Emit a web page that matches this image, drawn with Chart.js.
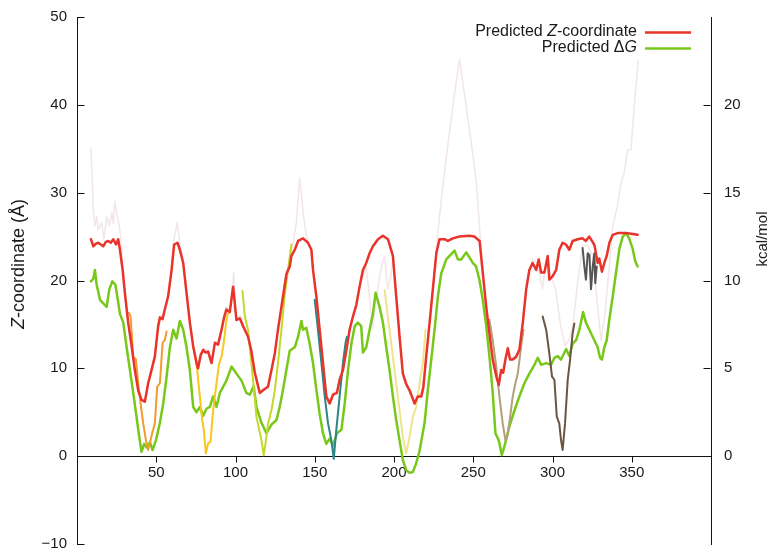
<!DOCTYPE html>
<html>
<head>
<meta charset="utf-8">
<script src="https://cdn.jsdelivr.net/npm/chart.js@4.4.1/dist/chart.umd.min.js"></script>
<style>
  html, body { margin: 0; padding: 0; background: #ffffff; }
  canvas { display: block; }
</style>
</head>
<body>
<canvas id="chart" width="772" height="549"></canvas>
<script>
// Predicted Z-coordinate (Å) along the sequence, capped near the membrane edge
const zRes = [8.8,10.3,12,13.4,15,16.6,18.2,19.7,21.3,22.9,24.6,26,27.1,28.8,30.2,32.3,34.5,36.5,38.6,40.7,42.8,44.9,47,49.1,51.2,52.3,54,55.4,57.5,59.7,61.3,63.4,64.9,67,69.1,71.2,73.3,75.4,76.4,78,79.6,81.2,82.7,84.9,87,89,91.2,92.8,94.3,96.4,98.5,100.6,102.7,104.8,107.9,110,112.2,115.3,117.4,120.5,122.7,124.8,126.8,130,132.1,134.2,135.3,137.4,139.5,142.6,145.7,147.9,148.9,151,153.1,155.2,157.3,159.4,161.5,164,165.7,167.8,170,172,174.1,176.2,178.3,180.4,182.5,184.6,186.7,189.9,193,196.2,199.3,201.4,203.5,205.6,207.7,209.8,213,215,217.2,218.5,220.3,222.4,224.5,226.7,228.7,231.9,234,237.1,241.3,247.6,250.8,254,256,258.2,260.2,262.3,264.5,266.1,267.6,268.9,270.3,271.8,273.2,274.9,277,279.1,281.2,283.4,285.4,287.5,289.7,291.3,292.8,294.9,297,298,300.1,302.3,304.3,306.4,308.5,310.6,312.7,315.9,319,321,323.2,325.3,326.5,328.5,329.5,331.2,332.7,334.2,335.9,338,341.1,346.4,353.7];
const zVal = [24.7,23.9,24.2,24.3,24.1,23.9,24.4,24.5,24.3,24.7,24.1,24.7,23.5,21.2,18.6,15.2,12.5,9.8,7.5,6.4,6.2,8.3,9.8,11.3,14.8,15.8,15.6,16.7,18.2,21.2,24.1,24.3,23.5,22,18.6,15.2,12.5,10.6,10,11.5,12.1,11.8,11.9,10.6,12.9,12.7,14.4,15.8,16.7,16.4,19.3,15.5,15.7,14.8,13.6,12,9.5,7.2,7.5,7.9,9.8,11.7,14.4,18.2,20.7,21.6,22.8,23.5,24.5,24.8,24.3,23.5,21.2,18.2,14.4,10.6,6.8,6,7,7.2,8.7,9.8,12.1,14.4,15.9,17.2,19.3,21.2,22,23.1,23.9,24.7,25.1,24.7,22.8,18.2,13.6,9.4,8.2,7.5,6,6.8,6.8,7.8,11.3,15.1,19,23.1,24.7,24.7,24.5,24.8,25,25.1,25,24.5,20.9,17,14,11,9.1,8.1,9.8,9.5,11,12.3,11,11,11.3,12.1,15.1,19,21.2,22,21.2,22.4,20.9,20.9,22.8,20.1,20.5,21.2,23.5,24.3,24.1,23.5,24.5,24.7,24.8,24.5,25,24.4,24,22,22.5,21,22,22.8,24.3,25.2,25.4,25.4,25.2];

// Predicted insertion free energy (kcal/mol)
const dgRes = [8.8,10.3,11.3,12.4,14.5,16.6,18.7,20.4,22.3,24.2,25.4,27.1,29.2,31.3,33.4,35.5,37.6,39.3,40.7,42.4,43.9,46,47.7,49.8,52.3,54.4,56.5,58.6,60.7,62.8,64.9,67,69.1,71.2,73.3,75.4,77.5,79.6,81.7,83.8,85.9,88,90.1,94.3,97.5,100.6,103.8,106.9,109,111.5,113.2,116.4,119.5,122.7,125.8,127.9,130,132.1,134.2,137.4,139.5,141.6,142.6,144.7,146.8,148.9,151,153.1,155.2,157.3,159.4,161.5,164,166.8,168.9,171,173.1,175.2,177.2,179.3,180.4,182.5,184.6,186.7,188.4,190.9,193,195.1,197.2,199.3,201.4,203.5,205.6,207.7,209.8,211.9,214,216,219.3,221.4,223.5,225.6,227.7,229.8,233,236.1,238.2,240.3,242.4,245.6,247.7,249.7,251.8,254,256,258.2,260.2,262.3,264,266.1,268,270.1,272.8,276,279.1,282.3,285.4,288.6,290.7,292.8,296,299.1,301.2,303.3,305.4,308.6,310.6,312.7,314.9,317,319.3,321.1,324.3,326.4,328.5,330,331.2,332.7,334.2,335.9,338,340,342.2,344.3,346.4,348.4,350.6,352.2,353.7];
const dgVal = [9.95,10.1,10.6,9.76,8.9,8.7,8.5,9.5,9.95,9.76,9.1,8.1,7.6,6.2,4.9,3.6,2.2,1.1,0.25,0.7,0.5,0.8,0.35,0.9,1.9,3,4.5,6.2,7.2,6.7,7.7,7.2,6.2,4.9,2.8,2.5,2.8,2.3,2.7,2.8,3.4,2.8,3.6,4.3,5.1,4.7,4.3,3.6,3.5,4,2.8,1.9,1.3,1.8,2.05,2.8,3.8,4.9,6,6.2,6.8,7.7,7.2,7.3,6.4,5.3,3.8,2.4,1.3,0.7,1,0.6,1.3,1.5,3,4.9,6.4,7.4,7.6,7.4,5.9,6.2,7.2,8.1,9.3,8.5,7.6,6.2,4.9,3.4,2.05,0.9,-0.23,-0.8,-0.95,-0.9,-0.4,0.25,1.9,3.8,5.5,7.2,9.1,10.4,11.2,11.5,11.7,11.2,11.2,11.6,11.3,11,10.8,10,8.9,7.4,5.7,3.6,1.3,0.9,0.06,0.7,1.7,2.6,3.4,4.15,4.7,5.2,5.6,5.2,5.3,5.2,5.6,5.7,5.5,6.1,5.7,6.4,6.6,7.2,8.2,7.6,7,6.6,6.2,5.6,5.5,6.2,6.6,7.8,9.1,10.4,11.8,12.5,12.7,12.4,11.8,11.1,10.8];

// Uncapped Z-coordinate trace (faint background curve)
const rawRes = [8.8,10.3,11.3,12.4,13.4,15.6,17,18.7,20.4,21.9,22.9,23.9,25.4,26.7,28,29,31,33,35,37,39,41,43,45,47,49,51,53,55,57,59.5,61,63.2,65,67,69,71,73.3,75.4,77,80,83,85,87,89,91,94,96.4,98.9,100.6,103,105,108,112,115,118,121,123,125,127,130,132,134,136,138.4,140.5,143,144.7,147,149,151,153,155,157,159.4,162,164,166,168,170,172,174,176,178.3,180.4,182.5,184.6,186.5,188.5,190.5,192,194,196,198,199.3,201.4,203.5,205.6,209.8,213,216,218.5,220.3,222.4,224.5,226.6,230,234,238,241.3,245,248.5,251.8,255,258.5,260.2,262.3,264.5,266,268,270,272,274,277,279,281,283.4,285.4,287.5,290.5,292,293.6,295,297,299,302,305,308,311,313,316,319,322,325.4,328,330.6,333,336,338,341,343.2,345.3,347.4,349.5,351.6,354.1];
const rawVal = [35.1,28.1,26.2,27.3,25.8,26.6,24.7,27.3,26.2,27.7,26.5,29,27.3,26.2,24,21,17,14,11.5,9,7,6.5,6.4,8.5,10,11.5,14.5,15.8,16.5,18,21,24.5,26.6,24,22.5,18.8,15.5,12.8,10.8,10.5,12.3,12,10.9,13,13,14.6,17,16.8,20.9,15.8,16,15,13.8,9.8,7.5,7.7,8.2,10,12,14.6,18.5,21,22,24,26.6,31.7,27.3,25,24,21.5,18.5,14.7,11,7.2,6.3,7.2,7.5,9,10,12.3,14.6,16,17.4,19.3,20.5,21.5,18,14.5,17.5,20,21.5,22.8,19,20.5,22.5,18.2,13.6,9.4,7.5,6.2,6.8,8,11.3,15,19,23.5,29.5,35.5,41,45.2,40.5,36,31.5,23.5,15.5,13.5,11,9.3,8.3,9.6,11,12,11.2,11.5,12.3,15,19,21.4,22.4,22,20.5,19,21,22.5,20.5,19,15,12.5,13.5,15.1,20,23.9,24,22.8,18,13.2,16,22,26.2,28.5,31.1,32.3,34.9,34.9,39.9,45];

// Alternative per-helix predictions (short segments)
const seg1Res = [32.8,33.8,35.5,37.2,38.6,40.1,41.8,43.5,44.9,46.4,47.7,49.1,50.6,52.3,54,55.4,56.5];
const seg1Val = [16.3,15.9,11.3,11,8.3,6,3.7,1.8,0.7,1.8,2.8,3.7,7.9,8.3,12.9,13.2,14.2];
const seg2Res = [73.3,75.4,77.5,79,80,81.3,82.7,84.2,85.9,88,89.7,91.2,92.6,94.3,95.3];
const seg2Val = [12.5,10.6,6.8,4.1,3,0.3,1.45,1.6,5.25,8.3,10.6,11.3,12.9,15.5,16.3];
const seg3Res = [104.4,105.9,107.9,110,112,113.2,116.4,117.8,119,120.5,122.7,124.8,126.8,129,131,133.1,135.3];
const seg3Val = [18.8,15.9,14.4,10.6,7,4.5,1.8,0.1,1.5,3.7,5.25,7.5,10.6,14.4,18.2,21.2,24.1];
const seg4Res = [150,152,154.2,156.3,158.4,160.5,162,163.6,165.7,167.8,169.5,170.3];
const seg4Val = [17.8,14.4,10.6,6.8,3.7,1.8,-0.3,3,6.8,10.6,13,13.6];
const seg5Res = [194.1,195.5,197.2,199.3,201.4,203.5,205.6,207.7,209.8,211.9,214,216.1,218.2,219.9];
const seg5Val = [18.9,16.7,14.4,11.3,8.3,5.25,2.2,0.3,2.2,4.5,5.6,8.3,10.6,14.4];
const seg6Res = [260.2,262.3,264.5,266.5,268.6,270.3,271.5,273.3,274.9,276.6,278.1,280.2,281.7];
const seg6Val = [15.5,13.2,10.2,6.8,3.7,1.8,2.3,4.5,6.8,8.3,9.4,12.5,14.4];
const seg7Res = [293.8,296,298,299.7,301.2,302.7,304.3,305.4,306.4,307.9,309.6,311.1,312.7,313.8];
const seg7Val = [15.9,14.4,11.7,9.05,8.7,4.5,3.7,1.8,0.7,3.7,8.7,11,14,15.1];
const seg8Res = [319,320.1,321.1,322.2,323.3,324.3,325.4,326.4,327,327.9];
const seg8Val = [23.7,21.6,20.1,23.1,22.9,19,21.6,23.1,19.7,21.6];

// Tick labels
const xTicks = [50, 100, 150, 200, 250, 300, 350];
const zTicks = [-10, 0, 10, 20, 30, 40, 50];
const dgTicks = [0, 5, 10, 15, 20];

const FAMILY = '"Liberation Sans", Arial, Helvetica, sans-serif';
const INK = '#1a1a1a';

const pts = (xs, ys) => xs.map((x, i) => ({ x: x, y: ys[i] }));

function line(label, xs, ys, color, width, axis, order) {
  return {
    label: label,
    data: pts(xs, ys),
    borderColor: color,
    backgroundColor: color,
    borderWidth: width,
    pointRadius: 0,
    tension: 0,
    fill: false,
    borderJoinStyle: 'round',
    borderCapStyle: 'round',
    yAxisID: axis,
    order: order
  };
}

// tick marks pointing into the plot, plus axis titles and legend text
const decorations = {
  id: 'decorations',
  afterDraw(chart) {
    const { ctx, chartArea, scales } = chart;
    const sx = scales.x, sy = scales.y, sr = scales.y2;
    const zeroY = Math.round(sy.getPixelForValue(0)) + 0.5;
    const left = Math.round(chartArea.left) + 0.5;
    const right = Math.round(chartArea.right) - 0.5;
    ctx.save();
    ctx.strokeStyle = '#111';
    ctx.lineWidth = 1;
    ctx.beginPath();
    zTicks.forEach(v => {
      const y = Math.round(sy.getPixelForValue(v)) + 0.5;
      ctx.moveTo(left, y); ctx.lineTo(left + 7, y);
    });
    dgTicks.forEach(v => {
      const y = Math.round(sr.getPixelForValue(v)) + 0.5;
      ctx.moveTo(right, y); ctx.lineTo(right - 7, y);
    });
    xTicks.forEach(v => {
      const x = Math.round(sx.getPixelForValue(v)) + 0.5;
      ctx.moveTo(x, zeroY); ctx.lineTo(x, zeroY + 6);
    });
    ctx.stroke();

    ctx.fillStyle = INK;
    ctx.textBaseline = 'middle';

    const measure = (parts, size) => parts.reduce((w, p) => {
      ctx.font = (p.it ? 'italic ' : '') + size + 'px ' + FAMILY;
      p.w = ctx.measureText(p.t).width;
      return w + p.w;
    }, 0);
    const put = (parts, size, x, y) => {
      parts.forEach(p => {
        ctx.font = (p.it ? 'italic ' : '') + size + 'px ' + FAMILY;
        ctx.fillText(p.t, x, y);
        x += p.w;
      });
    };

    // axis titles, both reading bottom to top
    const leftTitle = [{ t: 'Z', it: true }, { t: '-coordinate (Å)' }];
    let w = measure(leftTitle, 18);
    ctx.save();
    ctx.translate(19, 264);
    ctx.rotate(-Math.PI / 2);
    ctx.textAlign = 'left';
    put(leftTitle, 18, -w / 2, 0);
    ctx.restore();

    const rightTitle = [{ t: 'kcal/mol' }];
    w = measure(rightTitle, 15);
    ctx.save();
    ctx.translate(763, 239);
    ctx.rotate(-Math.PI / 2);
    ctx.textAlign = 'left';
    put(rightTitle, 15, -w / 2, 0);
    ctx.restore();

    // legend
    const items = [
      { parts: [{ t: 'Predicted ' }, { t: 'Z', it: true }, { t: '-coordinate' }], color: '#e8342a', y: 32 },
      { parts: [{ t: 'Predicted Δ' }, { t: 'G', it: true }], color: '#78c81a', y: 48 }
    ];
    ctx.textAlign = 'left';
    items.forEach(it => {
      const tw = measure(it.parts, 16);
      put(it.parts, 16, 637 - tw, it.y);
      ctx.strokeStyle = it.color;
      ctx.lineWidth = 2.5;
      ctx.beginPath();
      ctx.moveTo(645, it.y + 0.5);
      ctx.lineTo(691, it.y + 0.5);
      ctx.stroke();
    });
    ctx.restore();
  }
};

const tickFont = { family: FAMILY, size: 15 };

new Chart(document.getElementById('chart'), {
  type: 'line',
  data: {
    datasets: [
      line('Predicted Z-coordinate', zRes, zVal, '#e8342a', 2.5, 'y', 0),
      line('H8', seg8Res, seg8Val, '#555555', 2, 'y', 1),
      line('H7', seg7Res, seg7Val, '#6b5541', 2, 'y', 1),
      line('H6', seg6Res, seg6Val, '#b3a078', 2, 'y', 1),
      line('H5', seg5Res, seg5Val, '#efe38c', 2, 'y', 1),
      line('H4', seg4Res, seg4Val, '#2b8786', 2, 'y', 1),
      line('H3', seg3Res, seg3Val, '#c4d82c', 2, 'y', 1),
      line('H2', seg2Res, seg2Val, '#f7c81c', 2, 'y', 1),
      line('H1', seg1Res, seg1Val, '#f59a2c', 2, 'y', 1),
      line('Predicted ΔG', dgRes, dgVal, '#78c81a', 2.5, 'y2', 2),
      line('Z-coordinate (uncapped)', rawRes, rawVal, '#f2e6ea', 1.5, 'y', 3)
    ]
  },
  options: {
    responsive: false,
    animation: false,
    devicePixelRatio: 1,
    layout: { padding: { top: 17, bottom: 5, left: 0, right: 0 } },
    plugins: { legend: { display: false }, tooltip: { enabled: false } },
    scales: {
      x: {
        type: 'linear',
        min: 0,
        max: 400,
        position: { y: 0 },
        grid: { display: false, drawTicks: false },
        border: { display: true, color: '#111', width: 1 },
        ticks: { font: tickFont, color: INK, padding: 8, maxRotation: 0, autoSkip: false },
        afterBuildTicks: s => { s.ticks = xTicks.map(v => ({ value: v })); },
        afterFit: s => { s.paddingLeft = 0; s.paddingRight = 0; }
      },
      y: {
        type: 'linear',
        position: 'left',
        min: -10,
        max: 50,
        grid: { display: false, drawTicks: false },
        border: { display: true, color: '#111', width: 1 },
        ticks: {
          font: tickFont, color: INK, padding: 10,
          callback: v => (v < 0 ? '\u2212' + Math.abs(v) : String(v))
        },
        afterBuildTicks: s => { s.ticks = zTicks.map(v => ({ value: v })); },
        afterFit: s => { s.width = 77; s.paddingTop = 0; s.paddingBottom = 0; }
      },
      y2: {
        type: 'linear',
        position: 'right',
        min: -5,
        max: 25,
        grid: { display: false, drawTicks: false },
        border: { display: true, color: '#111', width: 1 },
        ticks: { font: tickFont, color: INK, padding: 13 },
        afterBuildTicks: s => { s.ticks = dgTicks.map(v => ({ value: v })); },
        afterFit: s => { s.width = 61; s.paddingTop = 0; s.paddingBottom = 0; }
      }
    }
  },
  plugins: [decorations]
});
</script>
</body>
</html>
